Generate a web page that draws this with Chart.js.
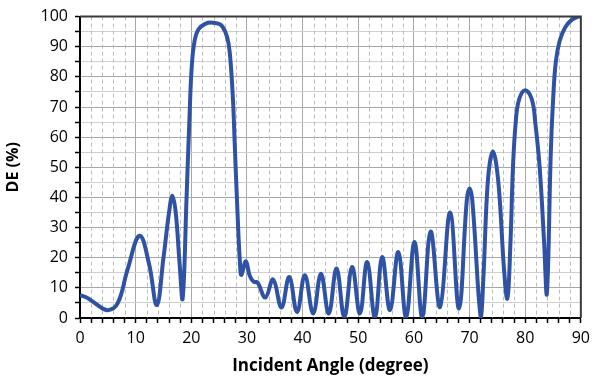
<!DOCTYPE html>
<html>
<head>
<meta charset="utf-8">
<script src="https://cdn.jsdelivr.net/npm/chart.js@4/dist/chart.umd.min.js"></script>
<style>
  html, body { margin: 0; padding: 0; background: #fff; }
  #wrap { width: 596px; height: 376px; }
</style>
</head>
<body>
<div id="wrap"><canvas id="chart" width="596" height="376"></canvas></div>
<script>
// Angles (degree) and diffraction efficiency (%)
const angles = [
  0, 1.5, 3, 5.0, 6.8, 8.5, 10.7, 12.4, 13.8, 15.0, 16.0, 16.6, 17.2, 17.9, 18.45,
  19.15, 19.7, 20.1, 20.6, 21.3, 22.5, 23.8, 25.2, 26.1, 26.7, 27.1, 27.5, 27.8,
  28.3, 28.75, 29.0,
  29.8, 30.5, 31.2, 31.9, 33.3, 34.7, 36.2, 37.6, 39.0, 40.4, 41.9, 43.3,
  44.7, 46.1, 47.5, 48.9, 50.3, 51.6, 53.0, 54.3, 55.7, 57.2, 58.6, 60.1,
  61.5, 63.0, 64.7, 66.5, 68.1, 69.5, 70.0, 70.5, 72.0,
  72.5, 73.1, 73.6, 74.2, 74.8, 75.4, 76.2, 76.8,
  77.35, 77.8, 78.3, 78.9, 80.0, 81.2, 81.8, 82.6, 83.4, 83.9,
  84.6, 85.0, 85.5, 86.2, 87.2, 88.4, 89.5, 90
];
const efficiency = [
  7.6, 6.5, 4.5, 2.6, 5, 15.8, 27.3, 18, 4.3, 20, 35, 40.6, 35, 18, 6.5,
  40, 68, 84, 92, 95.8, 97.6, 98, 97.4, 95, 91, 84, 72, 58,
  35, 18, 14.3,
  18.8, 14, 12, 11.8, 6.8, 12.8, 3.5, 13.6, 2, 14.2, 1.5, 14.7,
  1.5, 16.4, 0.3, 16.9, 1.5, 18.6, 0.2, 20.2, 2.6, 21.9, 0.2, 25.2,
  0.2, 28.7, 3.6, 35, 3.2, 39, 43, 39, 0.4,
  14, 40, 51, 55.3, 51, 40, 16, 6.5,
  25, 50, 65, 72.5, 75.6, 72.5, 65, 50, 25, 8.2,
  55, 72, 85, 92, 96.5, 99, 100, 100
];

const lineColor = '#2f52a5';
const fontFamily = '"Open Sans", "Liberation Sans", Arial, sans-serif';

// dashed minor verticals every 2 degrees + dark top/right frame
const framePlugin = {
  id: 'frame',
  beforeDatasetsDraw(chart) {
    const { ctx, chartArea, scales } = chart;
    ctx.save();
    ctx.strokeStyle = '#bdbdbd';
    ctx.lineWidth = 1;
    ctx.setLineDash([4, 3]);
    for (let v = 2; v < 90; v += 2) {
      if (v % 10 === 0) continue;
      const x = Math.round(scales.x.getPixelForValue(v)) + 0.5;
      ctx.beginPath();
      ctx.moveTo(x, chartArea.top);
      ctx.lineTo(x, chartArea.bottom);
      ctx.stroke();
    }
    ctx.restore();
  },
  afterDraw(chart) {
    const { ctx, chartArea } = chart;
    ctx.save();
    ctx.strokeStyle = '#3a3a3a';
    ctx.lineWidth = 2;
    ctx.beginPath();
    ctx.moveTo(chartArea.left, chartArea.top);
    ctx.lineTo(chartArea.right, chartArea.top);
    ctx.lineTo(chartArea.right, chartArea.bottom);
    ctx.stroke();
    ctx.restore();
  }
};

new Chart(document.getElementById('chart'), {
  type: 'line',
  data: {
    datasets: [{
      data: angles.map((a, i) => ({ x: a, y: efficiency[i] })),
      borderColor: lineColor,
      borderWidth: 4,
      pointRadius: 0,
      fill: false,
      tension: 0.4
    }]
  },
  options: {
    responsive: false,
    animation: false,
    layout: { padding: { top: 15, right: 7, left: 0, bottom: 0 } },
    plugins: { legend: { display: false }, tooltip: { enabled: false } },
    scales: {
      x: {
        type: 'linear',
        min: 0,
        max: 90,
        afterFit(scale) { scale.height = 58; },
        ticks: {
          stepSize: 2,
          autoSkip: false,
          maxRotation: 0,
          padding: 6,
          color: '#000',
          font: { family: fontFamily, size: 16 },
          callback: v => (v % 10 === 0 ? v : '')
        },
        grid: {
          color: c => (c.tick && c.tick.value % 10 === 0 ? '#a8a8a8' : 'rgba(0,0,0,0)'),
          tickColor: '#000',
          tickLength: 5,
          tickWidth: 1.5
        },
        border: { color: '#000', width: 2 },
        title: {
          display: true,
          text: 'Incident Angle (degree)',
          color: '#000',
          font: { family: fontFamily, size: 17, weight: 'bold' },
          padding: { top: 0, bottom: 0 }
        }
      },
      y: {
        min: 0,
        max: 100,
        afterFit(scale) { scale.width = 80; },
        ticks: {
          stepSize: 5,
          autoSkip: false,
          padding: 7,
          color: '#000',
          font: { family: fontFamily, size: 16 },
          callback: v => (v % 10 === 0 ? v : '')
        },
        grid: {
          color: c => (c.tick && c.tick.value % 10 === 0 ? '#a8a8a8' : '#d0d0d0'),
          tickColor: '#000',
          tickLength: 5,
          tickWidth: 1.5
        },
        border: { color: '#000', width: 2 },
        title: {
          display: true,
          text: 'DE (%)',
          color: '#000',
          font: { family: fontFamily, size: 16, weight: 'bold' },
          padding: { top: 4, bottom: 0 }
        }
      }
    }
  },
  plugins: [framePlugin]
});
</script>
</body>
</html>
